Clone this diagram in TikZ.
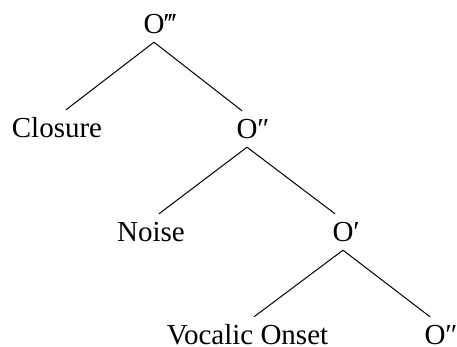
\documentclass[tikz,border=0pt]{standalone}
\usepackage{fontspec}
\setmainfont{Liberation Serif}
\begin{document}
\begin{tikzpicture}[x=1pt,y=1pt,
  lbl/.style={anchor=base,inner sep=0pt,text height=20pt,text depth=0pt,font=\fontsize{29}{34}\selectfont},
  edge/.style={draw=black,line width=1pt}]
\useasboundingbox (0,0) rectangle (457,347);
\node[lbl] (root)  at (154,313) {O\rlap{‴}};
\node[lbl] (clos)  at (57,209)  {Closure};
\node[lbl] (o2)    at (247,208) {O\rlap{″}};
\node[lbl] (noise) at (151,105) {Noise};
\node[lbl] (o1)    at (343,105) {O\rlap{′}};
\node[lbl] (voc)   at (247.5,2) {Vocalic Onset};
\node[lbl] (o2b)   at (435,2)   {O\rlap{″}};
\draw[edge] ([yshift=-8pt]root.south) -- ([xshift=9pt,yshift=8pt]clos.north);
\draw[edge] ([yshift=-8pt]root.south) -- ([xshift=-5pt,yshift=8pt]o2.north);
\draw[edge] ([yshift=-8pt]o2.south) -- ([xshift=8pt,yshift=8pt]noise.north);
\draw[edge] ([yshift=-8pt]o2.south) -- ([xshift=-8pt,yshift=8pt]o1.north);
\draw[edge] ([yshift=-8pt]o1.south) -- ([xshift=6.5pt,yshift=8pt]voc.north);
\draw[edge] ([yshift=-8pt]o1.south) -- ([xshift=-5pt,yshift=8pt]o2b.north);
\end{tikzpicture}
\end{document}
